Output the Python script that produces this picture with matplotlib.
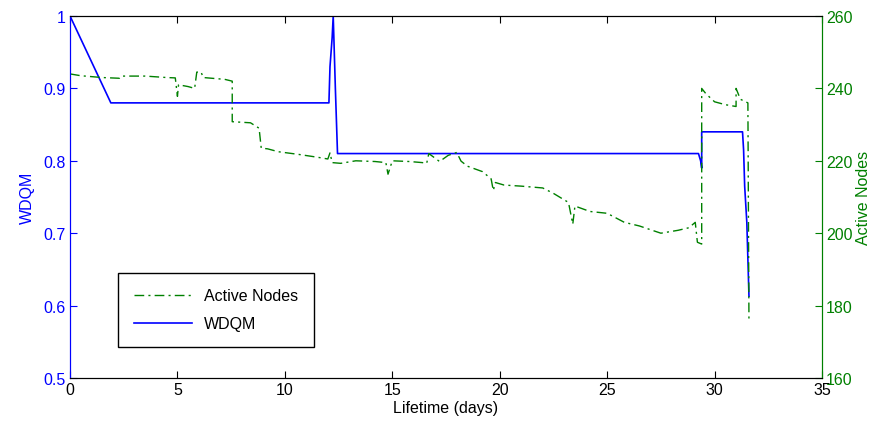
import matplotlib.pyplot as plt
from matplotlib.lines import Line2D

plt.rcParams['font.family'] = ['Liberation Sans Narrow', 'Liberation Sans', 'DejaVu Sans']

# WDQM (left axis)
wdqm_days = [0, 1.9, 12.05, 12.1, 12.2, 12.25, 12.35, 12.45, 29.25, 29.35, 29.4, 29.4,
             31.3, 31.35, 31.4, 31.5, 31.55, 31.6]
wdqm_vals = [1.0, 0.88, 0.88, 0.93, 0.97, 1.0, 0.9, 0.81, 0.81, 0.80, 0.79, 0.84,
             0.84, 0.815, 0.765, 0.715, 0.664, 0.613]

# Active nodes (right axis)
node_days = [0, 0.5, 1.5, 2.3, 2.4, 3.5, 4.5, 4.9, 5.0, 5.05, 5.5, 5.8, 5.9, 6.1, 6.2,
             7.2, 7.55, 7.55, 8.4, 8.8, 8.9, 9.2, 9.7, 10.6, 11.5, 12.0, 12.1, 12.2,
             12.6, 13.3, 14.2, 14.7, 14.8, 15.0, 15.8, 16.4, 16.6, 16.7, 17.2, 17.6,
             18.0, 18.2, 18.5, 19.2, 19.6, 19.7, 19.8, 20.2, 21.0, 22.0, 22.5, 23.2,
             23.4, 23.5, 24.2, 25.0, 25.8, 26.5, 27.5, 28.3, 28.8, 29.1, 29.2, 29.4,
             29.4, 29.6, 30.0, 30.5, 31.0, 31.0, 31.2, 31.55, 31.6]
node_vals = [244, 243.5, 243, 242.8, 243.4, 243.4, 243, 242.9, 237.8, 241, 240.5, 240,
             244.5, 244.5, 243, 242.5, 242, 230.8, 230.5, 229, 223.5, 223.3, 222.5,
             221.8, 221, 220.5, 222.2, 219.5, 219.3, 220, 219.8, 219.5, 216.3, 220,
             219.8, 219.5, 219.3, 222, 219.8, 221.5, 222.3, 219.9, 218.5, 217, 215,
             211.8, 214, 213.3, 213, 212.5, 211, 208.5, 202.5, 207.5, 206, 205.5, 203,
             202, 200, 200.8, 201.5, 203, 197.5, 197, 240, 238.5, 236.3, 235.5, 235,
             240, 237, 236, 175.5]

blue = (0, 0, 1)
green = (0, 0.5, 0)

fig = plt.figure(figsize=(8.73, 4.27), dpi=100)
ax = fig.add_axes([0.0802, 0.1124, 0.8614, 0.8478])
ax2 = ax.twinx()

ax.plot(wdqm_days, wdqm_vals, color=blue, lw=1.2)
ax2.plot(node_days, node_vals, color=green, lw=1.0, linestyle=(0, (7, 3, 1.5, 3)))

ax.set_xlim(0, 35)
ax.set_ylim(0.5, 1.0)
ax2.set_ylim(160, 260)
ax.set_xticks(range(0, 36, 5))
ax.set_yticks([0.5, 0.6, 0.7, 0.8, 0.9, 1.0])
ax.set_yticklabels(['0.5', '0.6', '0.7', '0.8', '0.9', '1'])
ax2.set_yticks(range(160, 261, 20))

ax.tick_params(axis='x', direction='in', top=True, length=5, labelsize=11.5, colors='black', pad=3)
ax.tick_params(axis='y', direction='in', length=5, labelsize=11.5, colors=blue, pad=3)
ax2.tick_params(axis='y', direction='in', length=5, labelsize=11.5, colors=green, pad=3)

ax.spines['left'].set_color(blue)
ax2.spines['left'].set_color(blue)
ax2.spines['right'].set_color(green)
ax.spines['right'].set_color(green)
for a in (ax, ax2):
    a.spines['top'].set_color('black')
    a.spines['bottom'].set_color('black')

ax.set_xlabel("Lifetime (days)", fontsize=11.5, labelpad=2)
ax.set_ylabel("WDQM", fontsize=11.5, color=blue, labelpad=6)
ax2.set_ylabel("Active Nodes", fontsize=11.5, color=green, labelpad=2)

handles = [Line2D([], [], color=green, lw=1.0, linestyle=(0, (7, 3, 1.5, 3))),
           Line2D([], [], color=blue, lw=1.2)]
leg = ax2.legend(handles, ["Active Nodes", "WDQM"], loc='lower left',
                 bbox_to_anchor=(0.064, 0.085), fontsize=11.5, fancybox=False,
                 edgecolor='black', framealpha=1, handlelength=3.6, borderpad=1.0,
                 labelspacing=0.8, borderaxespad=0)
leg.get_frame().set_linewidth(1.0)

plt.savefig("out.png")
